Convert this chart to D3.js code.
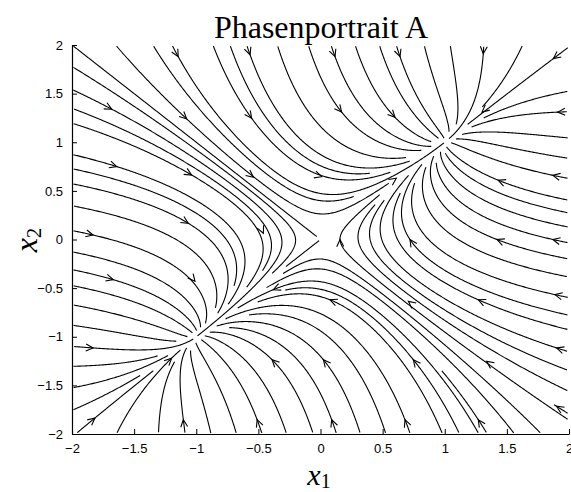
<!DOCTYPE html>
<html><head><meta charset="utf-8">
<script src="https://cdn.jsdelivr.net/npm/d3@7"></script>
<style>body{margin:0;background:#fff}svg{display:block}</style>
</head><body>
<svg id="chart" width="571" height="492"></svg>
<script>
// ---- data ----
const title = "Phasenportrait A";
const xTicks = [-2, -1.5, -1, -0.5, 0, 0.5, 1, 1.5, 2];
const yTicks = [-2, -1.5, -1, -0.5, 0, 0.5, 1, 1.5, 2];
// equilibria of the system (two stable nodes, one saddle)
const eqX1 = [0, 1, -1];
const eqX2 = [0, 1, -1];
// arrow positions (x1, x2); streamlines pass through them
const arrowX1 = [-1.145,-0.567,0.117,0.64,1.31,1.874, -1.68,-1.077,-0.554,0.17,0.60,1.30,1.91,
  -1.64,-1.037,-0.54,0.01,0.61,1.43,1.87, -1.83,-1.064,-0.46,0.157,0.72,1.42,1.87,
  -1.668,-1.01,-0.38,0.076,0.707,1.27,1.887, -1.83,-1.198,-0.39,0.023,0.747,1.337,1.90,
  -1.815,-1.104,-0.51,0.09,0.68,1.27,1.90];
const arrowX2 = [1.88,1.90,1.88,1.88,1.91,1.86, 1.34,1.24,1.246,1.31,1.256,1.31,1.31,
  0.75,0.663,0.64,0.646,0.63,0.61,0.66, 0.046,0.167,0.064,0.0,0.0,0.0,0.0,
  -0.413,-0.43,-0.516,-0.62,-0.636,-0.62,-0.567, -1.115,-1.22,-1.236,-1.236,-1.236,-1.253,-1.115,
  -1.835,-1.853,-1.853,-1.853,-1.853,-1.853,-1.715];
// start-grid cell centres used to fill the remaining streamlines
const gridX1 = [-1.9,-1.7,-1.5,-1.3,-1.1,-0.9,-0.7,-0.5,-0.3,-0.1,0.1,0.3,0.5,0.7,0.9,1.1,1.3,1.5,1.7,1.9];
const gridX2 = [-1.9,-1.7,-1.5,-1.3,-1.1,-0.9,-0.7,-0.5,-0.3,-0.1,0.1,0.3,0.5,0.7,0.9,1.1,1.3,1.5,1.7,1.9];
// vector field of the phase portrait: x1' = x2 - x1^3, x2' = x1 - x2^3
function field(x1, x2) { return [x2 - x1 * x1 * x1, x1 - x2 * x2 * x2]; }

// ---- layout ----
const svg = d3.select("#chart");
const X = d3.scaleLinear().domain([-2, 2]).range([72, 569]);
const Y = d3.scaleLinear().domain([-2, 2]).range([434, 45]);
const kx = X(1) - X(0), ky = Y(0) - Y(1);

function dir(p) {
  const f = field(p[0], p[1]);
  const sx = f[0] * kx, sy = f[1] * ky, m = Math.hypot(sx, sy);
  if (m < 1e-9) return null;
  return [sx / m / kx, sy / m / ky];
}
// spatial hash of already drawn points (pixel space)
const DT = 4.5, B = 5;
const hash = new Map();
function key(i, j) { return i * 10007 + j; }
function addPt(p, id) {
  const px = X(p[0]), py = Y(p[1]);
  const k = key(Math.floor(px / B), Math.floor(py / B));
  if (!hash.has(k)) hash.set(k, []);
  hash.get(k).push([px, py, id]);
}
function tooClose(p, id, d) {
  const px = X(p[0]), py = Y(p[1]);
  const i0 = Math.floor(px / B), j0 = Math.floor(py / B), r = Math.ceil(d / B);
  for (let i = i0 - r; i <= i0 + r; i++) for (let j = j0 - r; j <= j0 + r; j++) {
    const arr = hash.get(key(i, j)); if (!arr) continue;
    for (const q of arr) if (q[2] !== id && Math.hypot(q[0] - px, q[1] - py) < d) return true;
  }
  return false;
}
const NS = 20;
const sOcc = new Uint8Array(NS * NS);
function cellS(p) {
  const c = Math.min(NS - 1, Math.max(0, Math.floor((p[0] + 2) / 4 * NS)));
  const r = Math.min(NS - 1, Math.max(0, Math.floor((p[1] + 2) / 4 * NS)));
  return r * NS + c;
}
function nearEq(p) {
  for (let i = 0; i < eqX1.length; i++) {
    if (Math.hypot((p[0] - eqX1[i]) * kx, (p[1] - eqX2[i]) * ky) < 2) return true;
  }
  return false;
}
function trace(seed, id, sign) {
  const pts = [];
  let p = seed.slice();
  for (let s = 0; s < 4000; s++) {
    const h = 1.0 * sign;
    const d1 = dir(p); if (!d1) break;
    const mid = [p[0] + d1[0] * h * 0.5, p[1] + d1[1] * h * 0.5];
    const d2 = dir(mid); if (!d2) break;
    if (d1[0] * d2[0] * kx * kx + d1[1] * d2[1] * ky * ky < 0) break;
    const q = [p[0] + d2[0] * h, p[1] + d2[1] * h];
    if (q[0] < -1.99 || q[0] > 1.99 || q[1] < -1.99 || q[1] > 1.99) break;
    if (tooClose(q, id, DT)) break;
    pts.push(q); p = q;
    if (nearEq(q)) break;
  }
  return pts;
}
const lines = [];
let idc = 0;
function addLine(seed, force) {
  if (!force && tooClose(seed, -1, 7)) return false;
  const id = idc++;
  const back = trace(seed, id, -1).reverse();
  const fwd = trace(seed, id, 1);
  const all = back.concat([seed], fwd);
  all.forEach(q => { addPt(q, id); sOcc[cellS(q)] = 1; });
  lines.push(all);
  return true;
}
const arrows = arrowX1.map((v, i) => [v, arrowX2[i]]);
arrows.forEach(a => addLine(a, true));
gridX2.forEach(v2 => gridX1.forEach(v1 => {
  const p = [v1, v2];
  if (!sOcc[cellS(p)]) addLine(p, false);
}));

const lineGen = d3.line().x(d => X(d[0])).y(d => Y(d[1]));
const g = svg.append("g");
g.selectAll("path.sl").data(lines).join("path").attr("class", "sl")
  .attr("d", lineGen).attr("fill", "none").attr("stroke", "#000").attr("stroke-width", 1.1);

// arrow heads (open V, tip at the seed)
const L = 8, ang = 0.45;
g.selectAll("path.ah").data(arrows).join("path").attr("class", "ah")
  .attr("d", a => {
    const f = field(a[0], a[1]);
    const th = Math.atan2(-f[1] * ky, f[0] * kx);
    const tx = X(a[0]), ty = Y(a[1]);
    const p1 = [tx - L * Math.cos(th - ang), ty - L * Math.sin(th - ang)];
    const p2 = [tx - L * Math.cos(th + ang), ty - L * Math.sin(th + ang)];
    return `M${p1[0]},${p1[1]}L${tx},${ty}L${p2[0]},${p2[1]}`;
  })
  .attr("fill", "none").attr("stroke", "#000").attr("stroke-width", 1.1);

// axes
const tickFont = "'Liberation Sans', Arial, sans-serif";
const fmt = d => (d < 0 ? "\u2212" : "") + Math.abs(d);
const xAxis = d3.axisBottom(X).tickValues(xTicks).tickSizeInner(-5).tickSizeOuter(0).tickPadding(10).tickFormat(fmt);
const yAxis = d3.axisLeft(Y).tickValues(yTicks).tickSizeInner(-5).tickSizeOuter(0).tickPadding(9).tickFormat(fmt);
const gx = svg.append("g").attr("transform", `translate(0,${Y(-2)})`).call(xAxis);
const gy = svg.append("g").attr("transform", `translate(${X(-2)},0)`).call(yAxis);
[gx, gy].forEach(a => {
  a.select(".domain").attr("stroke", "#000").attr("stroke-width", 1.2);
  a.selectAll(".tick line").attr("stroke", "#000");
  a.selectAll(".tick text").attr("fill", "#000").attr("font-family", tickFont).attr("font-size", 13);
});

// title and labels
svg.append("text").attr("x", 321).attr("y", 38).attr("text-anchor", "middle")
  .attr("font-family", "'Liberation Serif', serif").attr("font-size", 32).attr("fill", "#000").text(title);
const xl = svg.append("text").attr("x", 319).attr("y", 485).attr("text-anchor", "middle")
  .attr("font-family", "'Liberation Serif', serif").attr("font-size", 30).attr("fill", "#000");
xl.append("tspan").attr("font-style", "italic").text("x");
xl.append("tspan").attr("font-size", 20).attr("dy", 3).text("1");
const yl = svg.append("text").attr("transform", "translate(37,240) rotate(-90)").attr("text-anchor", "middle")
  .attr("font-family", "'Liberation Serif', serif").attr("font-size", 32).attr("fill", "#000");
yl.append("tspan").attr("font-style", "italic").text("x");
yl.append("tspan").attr("font-size", 21).attr("dy", 4).text("2");
</script>
</body></html>
